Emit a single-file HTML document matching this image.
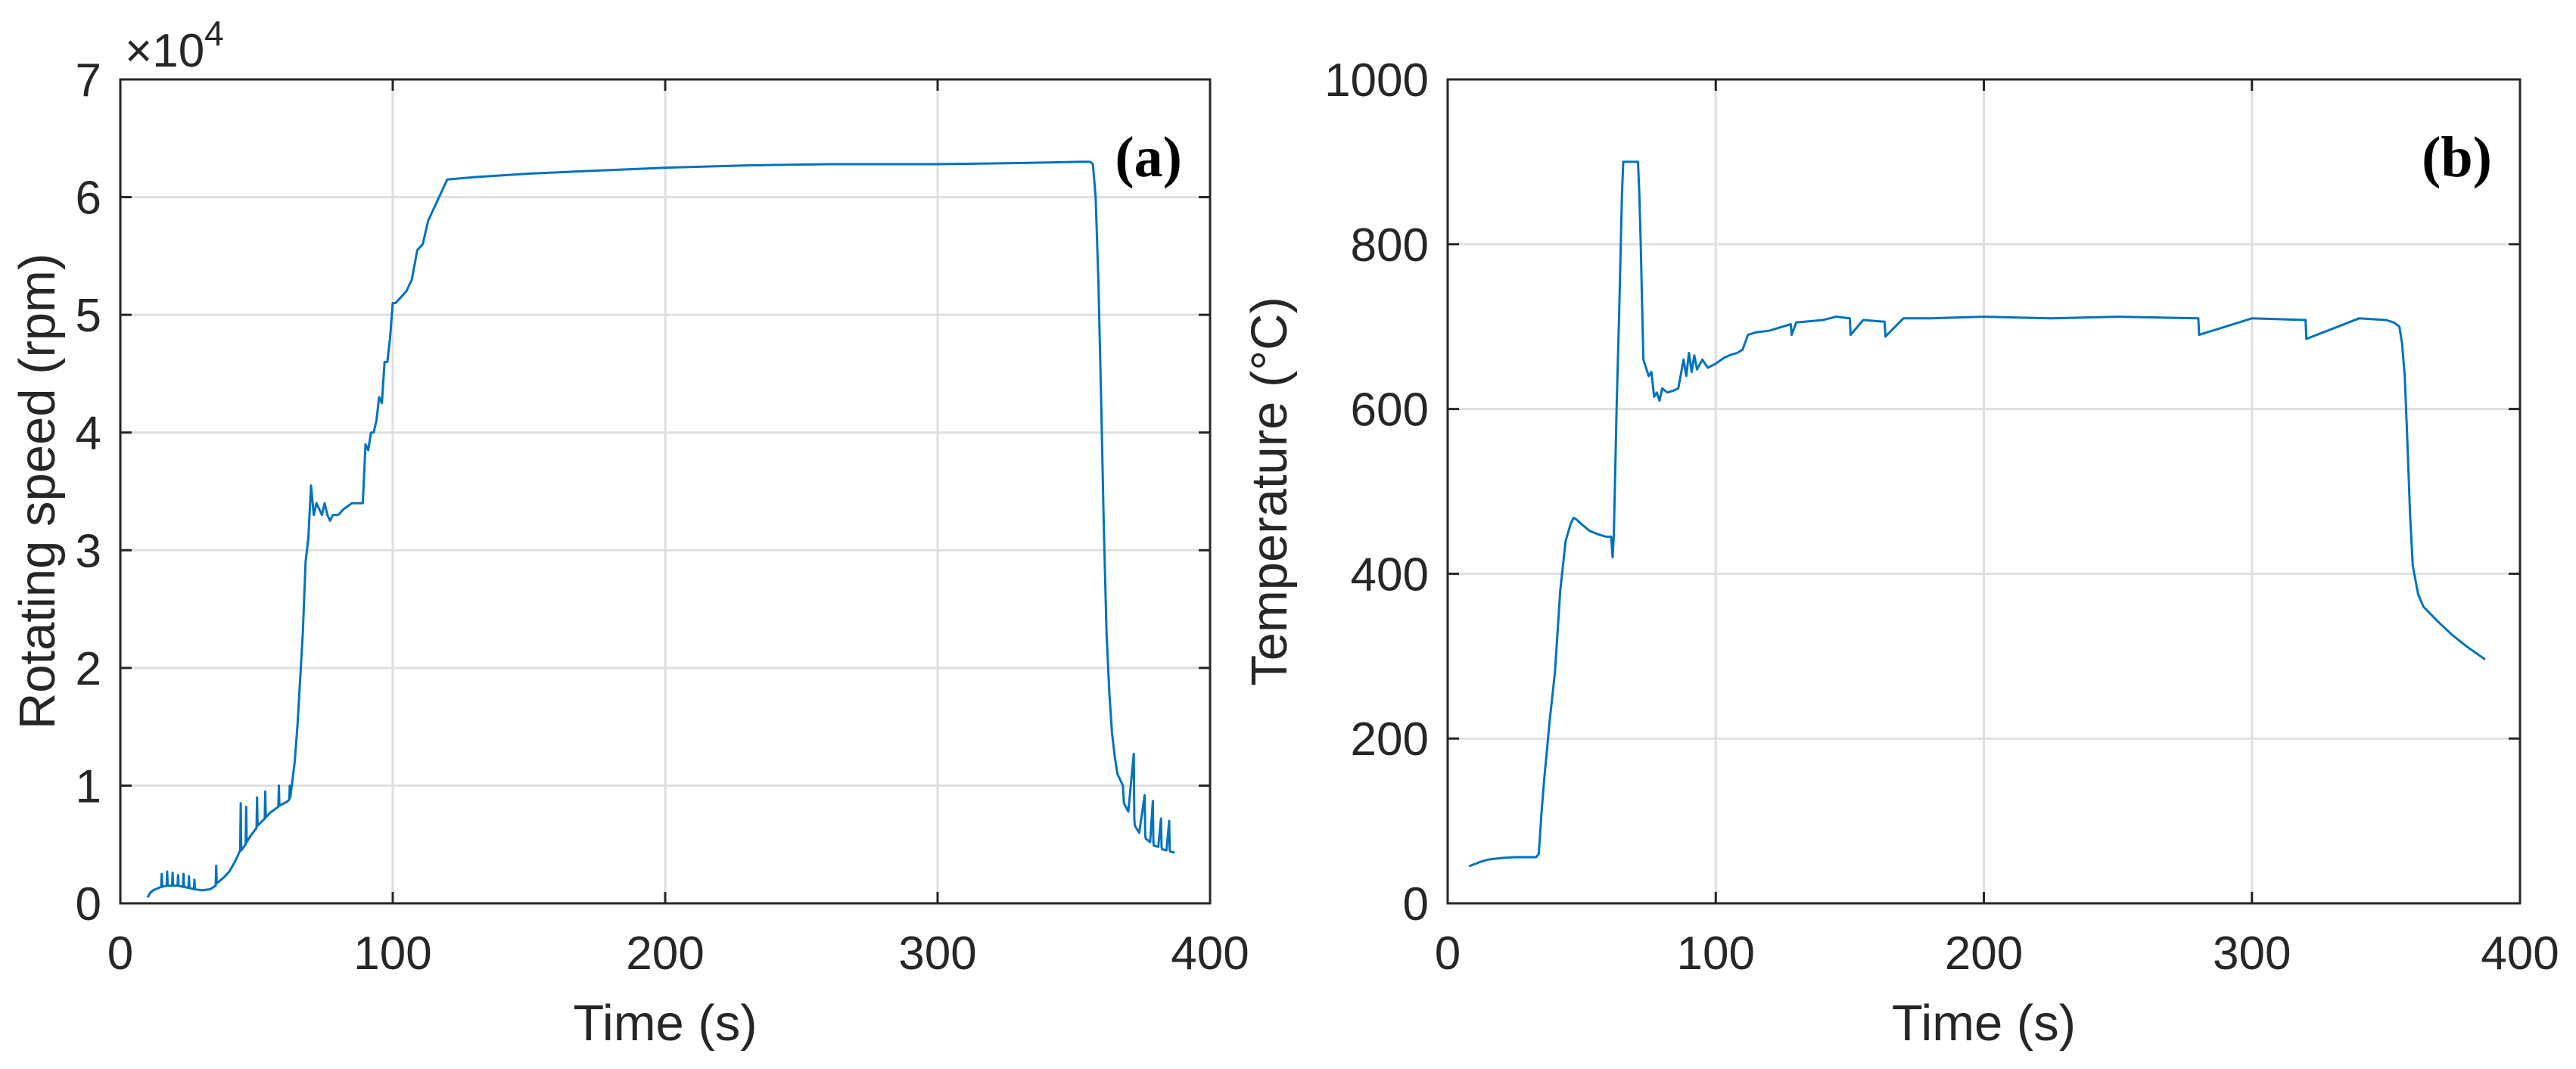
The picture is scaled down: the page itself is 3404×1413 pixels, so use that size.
<!DOCTYPE html>
<html><head><meta charset="utf-8"><style>
html,body{margin:0;padding:0;background:#fff;}
svg text{font-family:"Liberation Sans",Arial,sans-serif;fill:#262626;}
</style></head><body>
<svg id="fig" width="3404" height="1408" viewBox="0 0 3404 1408" xmlns="http://www.w3.org/2000/svg">
<g id="pa"></g>
<g id="pb"></g>
</svg>
<script>
const speedT=[10,11,12,13,14,15,15.2,15.4,17,17.2,17.4,19,19.2,19.4,21,21.2,21.4,23,23.2,23.4,25,25.2,25.4,27,27.2,27.4,30,33,35,35.2,35.4,38,40,42,44,44.2,44.4,46,46.2,46.4,48,50,50.2,50.4,53,53.2,53.4,55,58,58.2,58.4,61,62,62.2,62.4,64,65,66,67,68,69,70,71,72,73,74,75,76,77,78,79,80,82,85,88,89,90,91,92,93,94,95,96,97,98,99,100,101,103,105,107,109,111,113,115,120,130,150,170,200,230,260,300,330,352,354,355,356,357,358,359,360,361,362,363,364,365,366,368,368.2,368.4,370,372,372.2,372.4,374,376,376.2,376.4,378,379,379.2,379.4,381,382,382.2,382.4,384,385,385.2,385.4,387];
const speedV=[0.05,0.09,0.11,0.12,0.13,0.14,0.25,0.14,0.15,0.27,0.15,0.15,0.26,0.15,0.15,0.24,0.15,0.14,0.25,0.14,0.13,0.23,0.13,0.12,0.2,0.12,0.11,0.12,0.15,0.32,0.17,0.22,0.27,0.35,0.45,0.85,0.45,0.5,0.82,0.52,0.58,0.64,0.9,0.66,0.72,0.95,0.73,0.77,0.82,1.0,0.83,0.86,0.88,1.0,0.9,1.2,1.5,1.9,2.3,2.9,3.1,3.55,3.3,3.4,3.35,3.3,3.4,3.3,3.25,3.3,3.3,3.3,3.35,3.4,3.4,3.4,3.9,3.85,4.0,4.0,4.1,4.3,4.25,4.6,4.6,4.8,5.1,5.1,5.15,5.2,5.3,5.55,5.6,5.8,5.9,6.15,6.17,6.2,6.22,6.25,6.27,6.28,6.28,6.29,6.3,6.3,6.3,6.3,6.28,6.0,5.3,4.3,3.2,2.3,1.8,1.45,1.25,1.1,1.0,0.92,0.85,0.78,1.27,0.72,0.66,0.6,0.92,0.58,0.55,0.52,0.87,0.52,0.49,0.48,0.72,0.48,0.46,0.45,0.7,0.45,0.44,0.43,0.68,0.43,0.42];
const tempT=[8,12,15,20,25,33,34,35,36,37,38,40,42,44,46,47,48,50,53,56,59,61,61.5,62,63,64,65,65.5,71,71.5,72,73,74,75,76,77,78,79,80,82,84,86,88,89,90,91,92,93,95,97,100,103,105,108,110,112,115,120,125,128,128.3,130,140,145,150,150.3,155,163,163.3,170,180,200,225,250,280,280.3,300,320,320.3,340,350,353,355,356,357,358,359,360,362,364,367,370,375,380,387];
const tempV=[45,50,53,55,56,56,60,110,150,185,220,280,380,440,462,468,466,460,452,448,445,445,420,448,600,720,860,900,900,860,800,660,650,640,645,615,620,610,625,620,622,625,660,640,668,645,665,648,660,650,655,662,665,668,672,690,693,695,700,703,690,705,708,712,710,690,708,706,688,710,710,712,710,712,710,690,710,708,685,710,708,705,700,680,640,560,470,410,375,360,350,340,325,312,296,282];
const xTicks=[0,100,200,300,400];
const speedTicks=[0,1,2,3,4,5,6,7];
const tempTicks=[0,200,400,600,800,1000];
const NS='http://www.w3.org/2000/svg';
function mk(p,tag,attrs){const e=document.createElementNS(NS,tag);for(const k in attrs)e.setAttribute(k,attrs[k]);p.appendChild(e);return e;}
function panel(g,L,R,T,B,ymax,yticks,xs,ys,ylab,ylabX,tag,key){
  const sx=v=>L+(v/400)*(R-L), sy=v=>B-(v/ymax)*(B-T);
  xTicks.forEach(v=>{if(v>0&&v<400){const l=mk(g,'line',{x1:sx(v),x2:sx(v),y1:T,y2:B,stroke:'#dfdfdf','stroke-width':3});

}});
  yticks.forEach(v=>{if(v>0&&v<ymax){const l=mk(g,'line',{x1:L,x2:R,y1:sy(v),y2:sy(v),stroke:'#dfdfdf','stroke-width':3});

}});
  let d='';xs.forEach((t,i)=>{d+=(i?'L':'M')+sx(t).toFixed(1)+' '+sy(ys[i]).toFixed(1);});
  const p=mk(g,'path',{d:d,fill:'none',stroke:'#0072BD','stroke-width':3,'stroke-linejoin':'round'});
  
  
  const box=mk(g,'rect',{x:L,y:T,width:R-L,height:B-T,fill:'none',stroke:'#262626','stroke-width':3});
  
  
  xTicks.forEach(v=>{mk(g,'line',{x1:sx(v),x2:sx(v),y1:B,y2:B-15,stroke:'#262626','stroke-width':3});mk(g,'line',{x1:sx(v),x2:sx(v),y1:T,y2:T+15,stroke:'#262626','stroke-width':3});
    const t=mk(g,'text',{x:sx(v),y:1281,'font-size':62,'text-anchor':'middle'});t.textContent=v;
    
    });
  yticks.forEach(v=>{mk(g,'line',{x1:L,x2:L+15,y1:sy(v),y2:sy(v),stroke:'#262626','stroke-width':3});mk(g,'line',{x1:R,x2:R-15,y1:sy(v),y2:sy(v),stroke:'#262626','stroke-width':3});
    const t=mk(g,'text',{x:L-25,y:sy(v)+22,'font-size':62,'text-anchor':'end'});t.textContent=v;
    
    });
  const xl=mk(g,'text',{x:(L+R)/2,y:1375,'font-size':67,'text-anchor':'middle'});xl.textContent='Time (s)';
  
  
  const yl=mk(g,'text',{x:ylabX,y:(T+B)/2,'font-size':67,'text-anchor':'middle',transform:'rotate(-90 '+ylabX+' '+(T+B)/2+')'});yl.textContent=ylab;
  
  
  const pl=mk(g,'text',{x:R-37,y:233,'font-size':76,'font-weight':'bold','text-anchor':'end',style:'font-family:"Liberation Serif",serif;fill:#000'});pl.textContent=tag;
  
  
}
panel(document.getElementById('pa'),159,1599,105,1194,7,speedTicks,speedT,speedV,'Rotating speed (rpm)',72,'(a)','speed');
panel(document.getElementById('pb'),1913,3330,105,1194,1000,tempTicks,tempT,tempV,'Temperature (°C)',1700,'(b)','temperature');
const ex=mk(document.getElementById('pa'),'text',{x:165,y:88,'font-size':62});
ex.innerHTML='<tspan>×10</tspan><tspan dy="-28" font-size="46">4</tspan>';


</script>
</body></html>
